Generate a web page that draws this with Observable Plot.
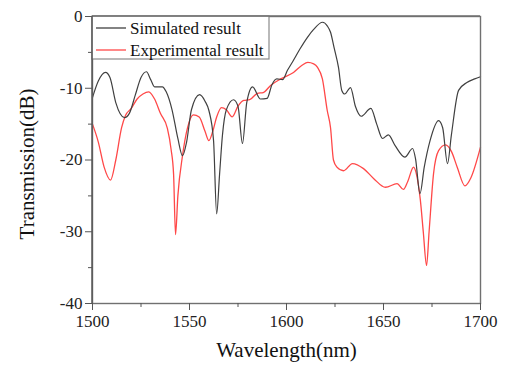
<!DOCTYPE html>
<html><head>
<meta charset="utf-8">
<script src="https://cdn.jsdelivr.net/npm/d3@7"></script>
<script src="https://cdn.jsdelivr.net/npm/@observablehq/plot@0.6"></script>
<style>
body{margin:0;background:#fff}
svg{font-family:"Liberation Serif","Times New Roman",serif}
</style>
</head><body><div id="chart"></div>
<script>
const simWl = [1500,1503,1506.7,1509,1512,1516.5,1519,1522,1525,1527.8,1530,1532,1536,1538,1541,1544,1546.4,1548.5,1551,1555.2,1558,1560,1562.4,1564,1565.5,1567,1569,1572.7,1575,1577.3,1579.5,1582.5,1586.6,1590,1592.5,1595,1598,1600.5,1603.6,1607,1610.8,1614,1618.6,1621,1622.7,1624.5,1626.8,1628.5,1630,1633,1635.5,1638.5,1643.5,1646.5,1649.5,1652.5,1656,1661,1665,1666.5,1668.8,1671,1674,1678.4,1680.5,1683,1685,1688.7,1693,1697,1700];
const simT = [-11.3,-9.0,-7.8,-8.5,-12,-14.1,-13.5,-11,-8.5,-7.7,-8.8,-9.8,-9.8,-10.5,-13,-17,-19.4,-17.5,-13,-10.9,-11.8,-13.1,-17.3,-27.5,-22,-16.5,-13,-11.6,-12.5,-17.7,-12,-9.8,-11.5,-11.4,-9.5,-8.7,-8.8,-7.5,-6.1,-4.5,-2.9,-1.8,-0.8,-1.3,-2.2,-4.3,-7.1,-10.3,-10.8,-9.9,-12.5,-13.9,-12.8,-15,-17.0,-16.5,-18,-19.6,-18.4,-19.8,-24.7,-21,-17.3,-14.5,-15.5,-20.5,-16.5,-10.3,-9.2,-8.7,-8.4];
const expWl = [1500,1503,1506,1509.3,1512,1515,1517,1520,1523,1526,1529,1532,1535,1538.6,1540.5,1541.8,1542.8,1544,1546.4,1549,1552,1555,1558,1560,1562,1564,1566.5,1569,1572,1575,1578,1581,1585,1588,1591.8,1597,1603.6,1608,1611,1614,1616,1618.5,1621,1622.7,1624.2,1626,1629.4,1634,1639.7,1645,1651,1657,1660.3,1662.5,1665.5,1667,1669,1670.5,1672.2,1673.5,1675.8,1678.4,1682,1685,1688,1692,1695,1700];
const expT = [-15,-17.5,-21,-22.8,-20,-15.5,-13.8,-12.8,-11.5,-10.8,-10.5,-11.5,-13.5,-15.6,-18.5,-22,-30.4,-25,-19.4,-15.5,-13.7,-14.0,-16.0,-17.3,-16,-14,-12.7,-13.0,-14.0,-12.5,-11.7,-11.6,-10.7,-10.6,-9.6,-8.7,-7.8,-6.8,-6.4,-6.6,-7.1,-8.7,-13.1,-15.5,-20,-21,-21.5,-20.5,-21.2,-22.6,-23.8,-23.3,-24.1,-23,-21,-22,-25.6,-30,-34.7,-30,-21.9,-18.7,-17.9,-18.8,-21,-23.6,-22.5,-18.2];
const xTicks = [1500,1550,1600,1650,1700];
const xMinor = [1525,1575,1625,1675];
const yTicks = [0,-10,-20,-30,-40];
const yMinor = [-5,-15,-25,-35];
const seriesNames = ["Simulated result","Experimental result"];
const seriesColors = ["#404040","#ff4848"];
const xTitle = "Wavelength(nm)";
const yTitle = "Transmission(dB)";

const sim = simWl.map((w,i)=>({w, t:simT[i]}));
const exp = expWl.map((w,i)=>({w, t:expT[i]}));

const W = 505, H = 366;
const mL = 92, mR = 25, mT = 16, mB = 63;
const plot = Plot.plot({
  width: W, height: H,
  marginLeft: mL, marginRight: mR, marginTop: mT, marginBottom: mB,
  style: {fontFamily: '"Liberation Serif","Times New Roman",serif', background: "#fff"},
  x: {domain: [1500,1700]},
  y: {domain: [-40,0]},
  marks: [
    Plot.line(exp, {x:"w", y:"t", stroke: seriesColors[1], strokeWidth: 1.3, curve: "monotone-x"}),
    Plot.line(sim, {x:"w", y:"t", stroke: seriesColors[0], strokeWidth: 1.2, curve: "monotone-x"}),
    Plot.frame({stroke: "#707070", strokeWidth: 1.4}),
    Plot.axisX({ticks: xTicks, tickSize: 7, tickPadding: 4, fontSize: 17, tickFormat: d => String(d), label: null, stroke: "#555", color: "#222"}),
    Plot.axisX({ticks: xMinor, tickSize: 4, tickFormat: () => "", label: null, stroke: "#555"}),
    Plot.axisY({ticks: yTicks, tickSize: 7, tickPadding: 3, fontSize: 17, tickFormat: d => String(d), label: null, stroke: "#555", color: "#222"}),
    Plot.axisY({ticks: yMinor, tickSize: 4, tickFormat: () => "", label: null, stroke: "#555"}),
    Plot.text([xTitle], {frameAnchor: "bottom", dy: 53, fontSize: 21, fill: "#111"}),
    Plot.text([yTitle], {frameAnchor: "left", textAnchor: "middle", rotate: -90, dx: -65, dy: 4, fontSize: 21, fill: "#111"})
  ]
});
document.getElementById("chart").appendChild(plot);

// legend inside the plot (top-left)
const svg = d3.select(plot);
const lg = svg.append("g").attr("text-anchor", "start");
lg.append("rect").attr("x", mL).attr("y", mT).attr("width", 177).attr("height", 43)
  .attr("fill", "#fff").attr("stroke", "#8a8a8a").attr("stroke-width", 1.2);
seriesNames.forEach((name, i) => {
  const yy = mT + 12 + i * 22;
  lg.append("line").attr("x1", mL + 4).attr("x2", mL + 34).attr("y1", yy).attr("y2", yy)
    .attr("stroke", seriesColors[i]).attr("stroke-width", 1.3);
  lg.append("text").attr("x", mL + 38).attr("y", yy + 5.5).attr("font-size", 17)
    .attr("text-anchor", "start").attr("fill", "#111").text(name);
});
svg.append("line").attr("x1", mL).attr("x2", W - mR).attr("y1", mT).attr("y2", mT).attr("stroke", "#707070").attr("stroke-width", 1.4);
svg.append("line").attr("x1", mL).attr("x2", mL).attr("y1", mT).attr("y2", H - mB).attr("stroke", "#555").attr("stroke-width", 1.4);
</script>
</body></html>
